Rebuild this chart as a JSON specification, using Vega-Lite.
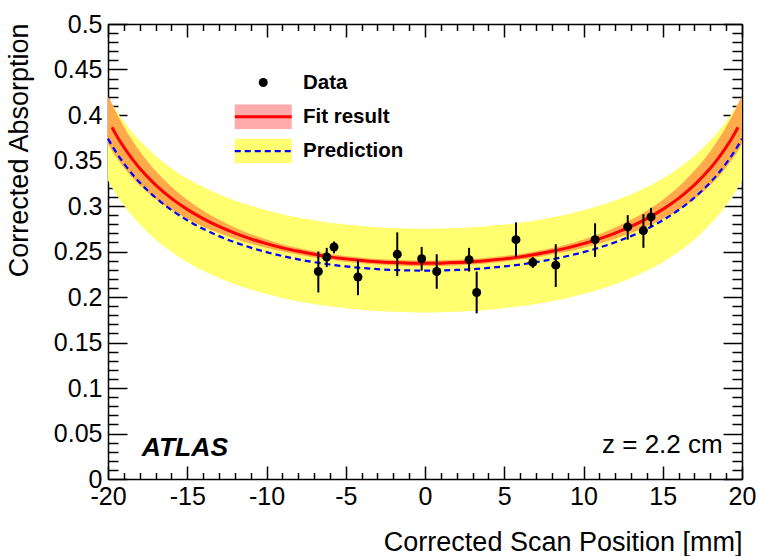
{
  "$schema": "https://vega.github.io/schema/vega-lite/v6.json",
  "width": 634,
  "height": 455,
  "autosize": {"type": "none"},
  "padding": {"left": 108, "top": 24, "right": 16, "bottom": 77},
  "background": "white",
  "config": {
    "view": {"stroke": null},
    "axis": {
      "domainColor": "black", "tickColor": "black", "labelColor": "black", "titleColor": "black",
      "grid": false, "labelFont": "Liberation Sans", "titleFont": "Liberation Sans",
      "labelFontSize": 25, "titleFontSize": 27, "titleFontWeight": "normal",
      "domainWidth": 1.5, "tickWidth": 1.5, "labelFlush": false, "labelOverlap": false, "labelBound": false
    }
  },
  "datasets": {
    "curves": [
      {"x": -20, "fit": null, "fitLo": 0.3680, "fitHi": 0.4220, "pred": 0.3740, "predLo": 0.3280, "predHi": 0.4200},
      {"x": -19.75, "fit": 0.3866, "fitLo": 0.3608, "fitHi": 0.4124, "pred": 0.3664, "predLo": 0.3204, "predHi": 0.4124},
      {"x": -19.5, "fit": 0.3787, "fitLo": 0.3540, "fitHi": 0.4034, "pred": 0.3594, "predLo": 0.3134, "predHi": 0.4054},
      {"x": -19, "fit": 0.3647, "fitLo": 0.3422, "fitHi": 0.3872, "pred": 0.3468, "predLo": 0.3008, "predHi": 0.3928},
      {"x": -18.5, "fit": 0.3524, "fitLo": 0.3318, "fitHi": 0.3730, "pred": 0.3357, "predLo": 0.2897, "predHi": 0.3817},
      {"x": -18, "fit": 0.3415, "fitLo": 0.3228, "fitHi": 0.3602, "pred": 0.3259, "predLo": 0.2799, "predHi": 0.3719},
      {"x": -17, "fit": 0.3232, "fitLo": 0.3077, "fitHi": 0.3387, "pred": 0.3092, "predLo": 0.2632, "predHi": 0.3552},
      {"x": -16, "fit": 0.3084, "fitLo": 0.2956, "fitHi": 0.3212, "pred": 0.2956, "predLo": 0.2496, "predHi": 0.3416},
      {"x": -15, "fit": 0.2963, "fitLo": 0.2857, "fitHi": 0.3069, "pred": 0.2843, "predLo": 0.2383, "predHi": 0.3303},
      {"x": -14, "fit": 0.2861, "fitLo": 0.2773, "fitHi": 0.2949, "pred": 0.2749, "predLo": 0.2289, "predHi": 0.3209},
      {"x": -13, "fit": 0.2775, "fitLo": 0.2702, "fitHi": 0.2848, "pred": 0.2669, "predLo": 0.2209, "predHi": 0.3129},
      {"x": -12, "fit": 0.2702, "fitLo": 0.2641, "fitHi": 0.2763, "pred": 0.2601, "predLo": 0.2141, "predHi": 0.3061},
      {"x": -11, "fit": 0.2639, "fitLo": 0.2587, "fitHi": 0.2691, "pred": 0.2543, "predLo": 0.2083, "predHi": 0.3003},
      {"x": -10, "fit": 0.2586, "fitLo": 0.2541, "fitHi": 0.2631, "pred": 0.2493, "predLo": 0.2033, "predHi": 0.2953},
      {"x": -9, "fit": 0.2540, "fitLo": 0.2500, "fitHi": 0.2580, "pred": 0.2450, "predLo": 0.1990, "predHi": 0.2910},
      {"x": -8, "fit": 0.2502, "fitLo": 0.2466, "fitHi": 0.2538, "pred": 0.2414, "predLo": 0.1954, "predHi": 0.2874},
      {"x": -7, "fit": 0.2469, "fitLo": 0.2435, "fitHi": 0.2503, "pred": 0.2383, "predLo": 0.1923, "predHi": 0.2843},
      {"x": -6, "fit": 0.2441, "fitLo": 0.2409, "fitHi": 0.2473, "pred": 0.2357, "predLo": 0.1897, "predHi": 0.2817},
      {"x": -5, "fit": 0.2419, "fitLo": 0.2388, "fitHi": 0.2450, "pred": 0.2336, "predLo": 0.1876, "predHi": 0.2796},
      {"x": -4, "fit": 0.2401, "fitLo": 0.2370, "fitHi": 0.2432, "pred": 0.2319, "predLo": 0.1859, "predHi": 0.2779},
      {"x": -3, "fit": 0.2387, "fitLo": 0.2356, "fitHi": 0.2418, "pred": 0.2306, "predLo": 0.1846, "predHi": 0.2766},
      {"x": -2, "fit": 0.2378, "fitLo": 0.2347, "fitHi": 0.2409, "pred": 0.2297, "predLo": 0.1837, "predHi": 0.2757},
      {"x": -1, "fit": 0.2372, "fitLo": 0.2341, "fitHi": 0.2403, "pred": 0.2292, "predLo": 0.1832, "predHi": 0.2752},
      {"x": 0, "fit": 0.2370, "fitLo": 0.2339, "fitHi": 0.2401, "pred": 0.2290, "predLo": 0.1830, "predHi": 0.2750},
      {"x": 1, "fit": 0.2372, "fitLo": 0.2341, "fitHi": 0.2403, "pred": 0.2292, "predLo": 0.1832, "predHi": 0.2752},
      {"x": 2, "fit": 0.2378, "fitLo": 0.2347, "fitHi": 0.2409, "pred": 0.2297, "predLo": 0.1837, "predHi": 0.2757},
      {"x": 3, "fit": 0.2387, "fitLo": 0.2356, "fitHi": 0.2418, "pred": 0.2306, "predLo": 0.1846, "predHi": 0.2766},
      {"x": 4, "fit": 0.2401, "fitLo": 0.2370, "fitHi": 0.2432, "pred": 0.2319, "predLo": 0.1859, "predHi": 0.2779},
      {"x": 5, "fit": 0.2419, "fitLo": 0.2388, "fitHi": 0.2450, "pred": 0.2336, "predLo": 0.1876, "predHi": 0.2796},
      {"x": 6, "fit": 0.2441, "fitLo": 0.2409, "fitHi": 0.2473, "pred": 0.2357, "predLo": 0.1897, "predHi": 0.2817},
      {"x": 7, "fit": 0.2469, "fitLo": 0.2435, "fitHi": 0.2503, "pred": 0.2383, "predLo": 0.1923, "predHi": 0.2843},
      {"x": 8, "fit": 0.2502, "fitLo": 0.2466, "fitHi": 0.2538, "pred": 0.2414, "predLo": 0.1954, "predHi": 0.2874},
      {"x": 9, "fit": 0.2540, "fitLo": 0.2500, "fitHi": 0.2580, "pred": 0.2450, "predLo": 0.1990, "predHi": 0.2910},
      {"x": 10, "fit": 0.2586, "fitLo": 0.2541, "fitHi": 0.2631, "pred": 0.2493, "predLo": 0.2033, "predHi": 0.2953},
      {"x": 11, "fit": 0.2639, "fitLo": 0.2587, "fitHi": 0.2691, "pred": 0.2543, "predLo": 0.2083, "predHi": 0.3003},
      {"x": 12, "fit": 0.2702, "fitLo": 0.2641, "fitHi": 0.2763, "pred": 0.2601, "predLo": 0.2141, "predHi": 0.3061},
      {"x": 13, "fit": 0.2775, "fitLo": 0.2702, "fitHi": 0.2848, "pred": 0.2669, "predLo": 0.2209, "predHi": 0.3129},
      {"x": 14, "fit": 0.2861, "fitLo": 0.2773, "fitHi": 0.2949, "pred": 0.2749, "predLo": 0.2289, "predHi": 0.3209},
      {"x": 15, "fit": 0.2963, "fitLo": 0.2857, "fitHi": 0.3069, "pred": 0.2843, "predLo": 0.2383, "predHi": 0.3303},
      {"x": 16, "fit": 0.3084, "fitLo": 0.2956, "fitHi": 0.3212, "pred": 0.2956, "predLo": 0.2496, "predHi": 0.3416},
      {"x": 17, "fit": 0.3232, "fitLo": 0.3077, "fitHi": 0.3387, "pred": 0.3092, "predLo": 0.2632, "predHi": 0.3552},
      {"x": 18, "fit": 0.3415, "fitLo": 0.3228, "fitHi": 0.3602, "pred": 0.3259, "predLo": 0.2799, "predHi": 0.3719},
      {"x": 18.5, "fit": 0.3524, "fitLo": 0.3318, "fitHi": 0.3730, "pred": 0.3357, "predLo": 0.2897, "predHi": 0.3817},
      {"x": 19, "fit": 0.3647, "fitLo": 0.3422, "fitHi": 0.3872, "pred": 0.3468, "predLo": 0.3008, "predHi": 0.3928},
      {"x": 19.5, "fit": 0.3787, "fitLo": 0.3540, "fitHi": 0.4034, "pred": 0.3594, "predLo": 0.3134, "predHi": 0.4054},
      {"x": 19.75, "fit": 0.3866, "fitLo": 0.3608, "fitHi": 0.4124, "pred": 0.3664, "predLo": 0.3204, "predHi": 0.4124},
      {"x": 20, "fit": null, "fitLo": 0.3680, "fitHi": 0.4220, "pred": 0.3740, "predLo": 0.3280, "predHi": 0.4200}
    ],
    "points": [
      {"x": -6.73, "y": 0.228, "lo": 0.205, "hi": 0.250},
      {"x": -6.20, "y": 0.244, "lo": 0.233, "hi": 0.254},
      {"x": -5.74, "y": 0.255, "lo": 0.248, "hi": 0.261},
      {"x": -4.23, "y": 0.222, "lo": 0.202, "hi": 0.241},
      {"x": -1.75, "y": 0.247, "lo": 0.223, "hi": 0.271},
      {"x": -0.21, "y": 0.242, "lo": 0.229, "hi": 0.255},
      {"x": 0.74, "y": 0.228, "lo": 0.209, "hi": 0.247},
      {"x": 2.78, "y": 0.241, "lo": 0.228, "hi": 0.254},
      {"x": 3.26, "y": 0.205, "lo": 0.182, "hi": 0.228},
      {"x": 5.74, "y": 0.263, "lo": 0.244, "hi": 0.282},
      {"x": 6.80, "y": 0.238, "lo": 0.232, "hi": 0.244},
      {"x": 8.25, "y": 0.235, "lo": 0.211, "hi": 0.258},
      {"x": 10.73, "y": 0.263, "lo": 0.244, "hi": 0.281},
      {"x": 12.79, "y": 0.277, "lo": 0.263, "hi": 0.290},
      {"x": 13.78, "y": 0.273, "lo": 0.254, "hi": 0.291},
      {"x": 14.26, "y": 0.288, "lo": 0.277, "hi": 0.298}
    ],
    "atlas": [{"label": "ATLAS"}],
    "zlabel": [{"label": "z = 2.2 cm"}]
  },
  "resolve": {"axis": {"x": "independent", "y": "independent"}},
  "layer": [
    {
      "data": {"name": "curves"},
      "mark": {"type": "area", "interpolate": "monotone"},
      "encoding": {
        "x": {"field": "x", "type": "quantitative",
          "scale": {"domain": [-20, 20], "nice": false, "zero": false},
          "axis": {"orient": "bottom", "values": [-20, -15, -10, -5, 0, 5, 10, 15, 20], "ticks": false, "labelPadding": 5,
            "labelExpr": "toString(datum.value)", "title": "Corrected Scan Position [mm]", "titleAnchor": "end",
            "titleBaseline": "alphabetic", "titleY": 71}},
        "y": {"field": "predLo", "type": "quantitative",
          "scale": {"domain": [0, 0.5], "nice": false, "zero": false},
          "axis": {"orient": "left", "values": [0, 0.05, 0.1, 0.15, 0.2, 0.25, 0.3, 0.35, 0.4, 0.45, 0.5], "ticks": false, "labelPadding": 6,
            "labelExpr": "toString(datum.value)", "title": "Corrected Absorption", "titleAnchor": "end", "titleX": -75, "titleY": -1}},
        "y2": {"field": "predHi"},
        "fill": {"datum": "Prediction", "type": "nominal",
          "scale": {"domain": ["Data", "Fit result", "Prediction"], "range": ["#000000", "#ff0000", "#ffff70"]},
          "legend": {"orient": "none", "legendX": 121, "legendY": 46, "title": null, "direction": "vertical",
            "symbolSize": 81, "symbolOffset": 24, "labelOffset": 29.5, "clipHeight": 25, "rowPadding": 9.3,
            "labelFont": "Liberation Sans", "labelFontSize": 20.5, "labelFontWeight": "bold", "labelColor": "black",
            "encode": {"symbols": {"update": {
              "shape": {"signal": "datum.value === 'Data' ? 'circle' : 'M-6.33,-2.78H6.33V2.78H-6.33Z'"},
              "fillOpacity": {"signal": "datum.value === 'Fit result' ? 0.33 : 1"},
              "strokeWidth": {"value": 0},
              "size": {"value": 81}}}}}}
      }
    },
    {
      "data": {"name": "curves"},
      "mark": {"type": "area", "interpolate": "monotone", "fillOpacity": 0.33},
      "encoding": {
        "x": {"field": "x", "type": "quantitative",
          "axis": {"orient": "top", "values": [-20, -15, -10, -5, 0, 5, 10, 15, 20], "labels": false, "tickSize": -13, "title": null}},
        "y": {"field": "fitLo", "type": "quantitative",
          "axis": {"orient": "right", "values": [0, 0.05, 0.1, 0.15, 0.2, 0.25, 0.3, 0.35, 0.4, 0.45, 0.5], "labels": false, "tickSize": -19, "title": null}},
        "y2": {"field": "fitHi"},
        "fill": {"datum": "Fit result", "type": "nominal"}
      }
    },
    {
      "data": {"name": "curves"},
      "mark": {"type": "line", "interpolate": "monotone", "strokeWidth": 2.2, "strokeDash": [6, 4]},
      "encoding": {
        "x": {"field": "x", "type": "quantitative",
          "axis": {"orient": "bottom", "values": [-19, -18, -17, -16, -14, -13, -12, -11, -9, -8, -7, -6, -4, -3, -2, -1, 1, 2, 3, 4, 6, 7, 8, 9, 11, 12, 13, 14, 16, 17, 18, 19],
            "labels": false, "domain": false, "tickSize": -6.5, "title": null}},
        "y": {"field": "pred", "type": "quantitative",
          "axis": {"orient": "left", "values": [0.01, 0.02, 0.03, 0.04, 0.06, 0.07, 0.08, 0.09, 0.11, 0.12, 0.13, 0.14, 0.16, 0.17, 0.18, 0.19, 0.21, 0.22, 0.23, 0.24, 0.26, 0.27, 0.28, 0.29, 0.31, 0.32, 0.33, 0.34, 0.36, 0.37, 0.38, 0.39, 0.41, 0.42, 0.43, 0.44, 0.46, 0.47, 0.48, 0.49],
            "labels": false, "domain": false, "tickSize": -10, "title": null}},
        "stroke": {"datum": "p", "type": "nominal",
          "scale": {"domain": ["d", "f", "p"], "range": ["#000000", "#ff0000", "#0000ff"]},
          "legend": {"orient": "none", "legendX": 121, "legendY": 46, "title": null, "direction": "vertical",
            "symbolSize": 81, "symbolOffset": 24, "labelOffset": 29.5, "clipHeight": 25, "rowPadding": 9.3,
            "labelFont": "Liberation Sans", "labelFontSize": 20.5, "labelFontWeight": "bold", "labelOpacity": 0,
            "labelExpr": "''",
            "encode": {"symbols": {"update": {
              "shape": {"value": "M-6.33,0H6.33"},
              "strokeOpacity": {"signal": "datum.value === 'd' ? 0 : 1"},
              "strokeWidth": {"signal": "datum.value === 'f' ? 3 : 2.2"},
              "strokeDash": {"signal": "datum.value === 'p' ? [6, 4] : [1, 0]"},
              "fillOpacity": {"value": 0},
              "size": {"value": 81}}}}}}
      }
    },
    {
      "data": {"name": "curves"},
      "mark": {"type": "line", "interpolate": "monotone", "strokeWidth": 3},
      "encoding": {
        "x": {"field": "x", "type": "quantitative",
          "axis": {"orient": "top", "values": [-19, -18, -17, -16, -14, -13, -12, -11, -9, -8, -7, -6, -4, -3, -2, -1, 1, 2, 3, 4, 6, 7, 8, 9, 11, 12, 13, 14, 16, 17, 18, 19],
            "labels": false, "domain": false, "tickSize": -6.5, "title": null}},
        "y": {"field": "fit", "type": "quantitative",
          "axis": {"orient": "right", "values": [0.01, 0.02, 0.03, 0.04, 0.06, 0.07, 0.08, 0.09, 0.11, 0.12, 0.13, 0.14, 0.16, 0.17, 0.18, 0.19, 0.21, 0.22, 0.23, 0.24, 0.26, 0.27, 0.28, 0.29, 0.31, 0.32, 0.33, 0.34, 0.36, 0.37, 0.38, 0.39, 0.41, 0.42, 0.43, 0.44, 0.46, 0.47, 0.48, 0.49],
            "labels": false, "domain": false, "tickSize": -10, "title": null}},
        "stroke": {"datum": "f", "type": "nominal"}
      }
    },
    {
      "data": {"name": "points"},
      "mark": {"type": "rule", "strokeWidth": 2},
      "encoding": {
        "x": {"field": "x", "type": "quantitative",
          "axis": {"orient": "bottom", "values": [-20, -15, -10, -5, 0, 5, 10, 15, 20], "labels": false, "domain": false, "tickSize": -13, "title": null}},
        "y": {"field": "lo", "type": "quantitative",
          "axis": {"orient": "left", "values": [0, 0.05, 0.1, 0.15, 0.2, 0.25, 0.3, 0.35, 0.4, 0.45, 0.5], "labels": false, "domain": false, "tickSize": -19, "title": null}},
        "y2": {"field": "hi"},
        "stroke": {"datum": "d", "type": "nominal"}
      }
    },
    {
      "data": {"name": "points"},
      "mark": {"type": "point", "filled": true, "shape": "circle", "size": 81, "opacity": 1},
      "encoding": {
        "x": {"field": "x", "type": "quantitative", "axis": null},
        "y": {"field": "y", "type": "quantitative", "axis": null},
        "fill": {"datum": "Data", "type": "nominal"}
      }
    },
    {
      "data": {"name": "atlas"},
      "mark": {"type": "text", "align": "left", "baseline": "alphabetic", "font": "Liberation Sans", "fontSize": 26.5, "fontWeight": "bold", "fontStyle": "italic", "color": "black"},
      "encoding": {
        "x": {"datum": -17.87, "type": "quantitative", "axis": null},
        "y": {"datum": 0.0253, "type": "quantitative", "axis": null},
        "text": {"field": "label"}
      }
    },
    {
      "data": {"name": "zlabel"},
      "mark": {"type": "text", "align": "right", "baseline": "alphabetic", "font": "Liberation Sans", "fontSize": 26, "color": "black"},
      "encoding": {
        "x": {"datum": 18.78, "type": "quantitative", "axis": null},
        "y": {"datum": 0.0289, "type": "quantitative", "axis": null},
        "text": {"field": "label"}
      }
    }
  ]
}
